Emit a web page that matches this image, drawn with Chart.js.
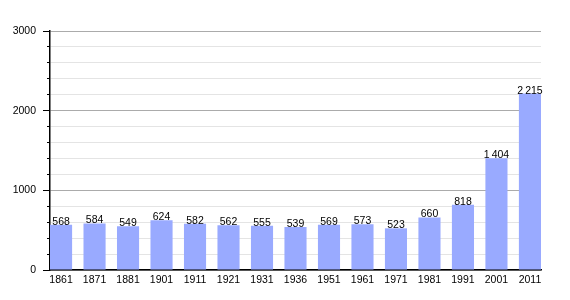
<!DOCTYPE html>
<html>
<head>
<meta charset="utf-8">
<script src="https://cdn.jsdelivr.net/npm/chart.js@4"></script>
<style>
    body { margin: 0; background: #fff; }
    #wrap { width: 570px; height: 300px; }
</style>
</head>
<body>
<div id="wrap"><canvas id="popChart"></canvas></div>
<script>
const years = ['1861', '1871', '1881', '1901', '1911', '1921', '1931', '1936', '1951', '1961', '1971', '1981', '1991', '2001', '2011'];
const population = [568, 584, 549, 624, 582, 562, 555, 539, 569, 573, 523, 660, 818, 1404, 2215];
const yTicks = [0, 1000, 2000, 3000];

const barColor = 'rgb(153, 170, 255)';

function formatValue(v) {
    // thin space as thousands separator, like the original
    return v >= 1000 ? Math.floor(v / 1000) + '\u2009' + String(v % 1000).padStart(3, '0') : String(v);
}

const valueLabels = {
    id: 'valueLabels',
    afterDatasetsDraw(chart) {
        const ctx = chart.ctx;
        const meta = chart.getDatasetMeta(0);
        ctx.save();
        ctx.font = '10.5px "Liberation Sans", Arial, sans-serif';
        ctx.fillStyle = '#000';
        ctx.textAlign = 'center';
        ctx.textBaseline = 'alphabetic';
        meta.data.forEach((bar, i) => {
            ctx.fillText(formatValue(population[i]), bar.x, bar.y);
        });
        ctx.restore();
    }
};

new Chart(document.getElementById('popChart').getContext('2d'), {
    type: 'bar',
    data: {
        datasets: [{
            data: population.map((v, i) => ({x: i, y: v})),
            backgroundColor: barColor,
            borderWidth: 0,
            categoryPercentage: 1,
            barPercentage: 0.66
        }]
    },
    options: {
        responsive: true,
        maintainAspectRatio: false,
        animation: false,
        layout: {
            padding: {top: 31, right: 29, left: 0, bottom: 0}
        },
        scales: {
            x: {
                type: 'linear',
                offset: false,
                min: -0.33,
                max: 14.33,
                afterBuildTicks: scale => {
                    scale.ticks = years.map((_, i) => ({value: i}));
                },
                afterFit: scale => { scale.height = 30; },
                grid: {
                    display: true,
                    offset: false,
                    drawOnChartArea: false,
                    drawTicks: false
                },
                border: {color: '#000', width: 1.5},
                ticks: {
                    autoSkip: false,
                    maxRotation: 0,
                    padding: 4,
                    color: '#000',
                    font: {family: '"Liberation Sans", Arial, sans-serif', size: 10.5},
                    callback: value => years[value]
                }
            },
            y: {
                min: 0,
                max: 3000,
                afterFit: scale => { scale.width = 50; },
                grid: {
                    color: ctx => ctx.tick.value % 1000 === 0 ? '#ababab' : '#e4e4e4',
                    tickColor: '#000',
                    tickLength: 7,
                    tickBorderDash: ctx => ctx.tick.value % 1000 === 0 ? [] : [0, 4, 3, 20]
                },
                border: {color: '#000', width: 1.5},
                ticks: {
                    stepSize: 200,
                    padding: 7,
                    color: '#000',
                    font: {family: '"Liberation Sans", Arial, sans-serif', size: 10.5},
                    callback: value => yTicks.includes(value) ? value : ''
                }
            }
        },
        plugins: {
            legend: {display: false},
            tooltip: {enabled: false}
        }
    },
    plugins: [valueLabels]
});
</script>
</body>
</html>
